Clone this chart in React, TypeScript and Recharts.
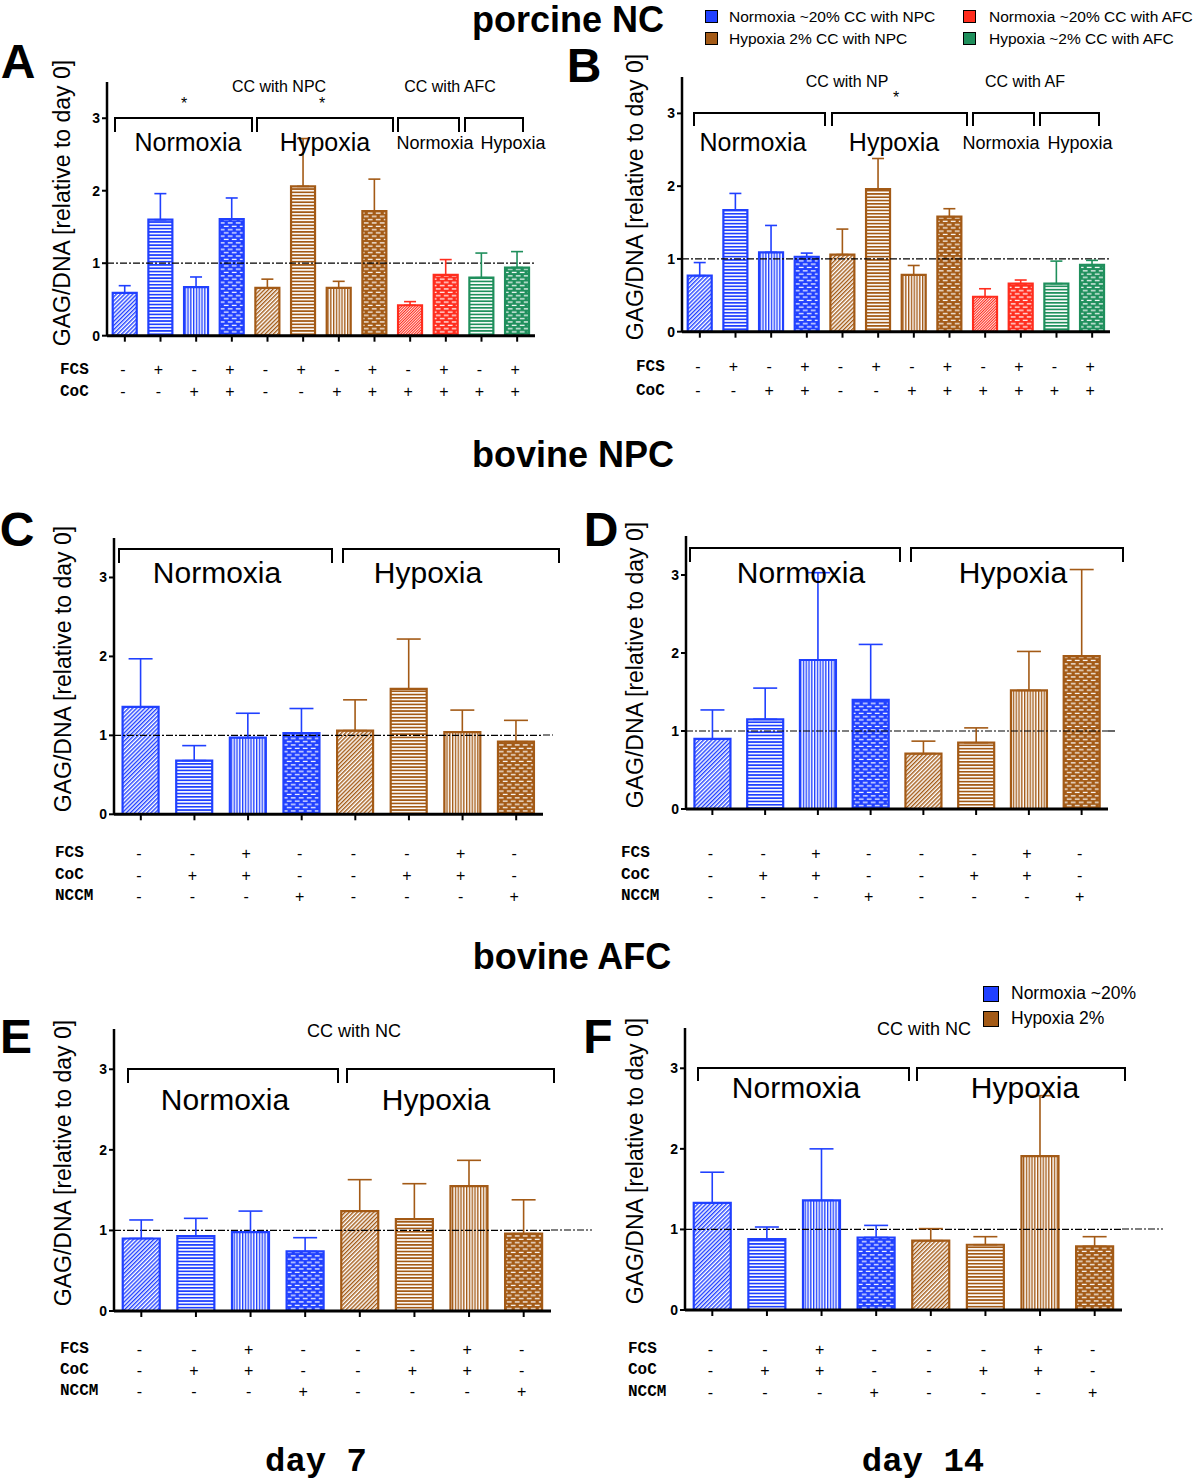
import React from "react";
import { Bar, BarChart, Cell, ErrorBar, ReferenceLine, XAxis, YAxis } from "recharts";

const BLUE = "#2040ff";
const BROWN = "#a35a16";
const RED = "#ff2d1e";
const GREEN = "#1f8f5c";
const SANS = "'Liberation Sans', Arial, sans-serif";
const MONO = "'Liberation Mono', 'Courier New', monospace";

type Group = "blue" | "brown" | "red" | "green";
type Fill = "diag" | "horiz" | "vert" | "brick" | "fine";

const COLORS: Record<Group, string> = { blue: BLUE, brown: BROWN, red: RED, green: GREEN };

// porcine NC: 12 conditions
const porcineCats = ["n1", "n2", "n3", "n4", "h1", "h2", "h3", "h4", "an1", "an2", "ah1", "ah2"];
const porcineGroups: Group[] = ["blue", "blue", "blue", "blue", "brown", "brown", "brown", "brown", "red", "red", "green", "green"];
const porcineFills: Fill[] = ["diag", "horiz", "vert", "brick", "diag", "horiz", "vert", "brick", "fine", "brick", "horiz", "brick"];
const porcineFCS = ["-", "+", "-", "+", "-", "+", "-", "+", "-", "+", "-", "+"];
const porcineCoC = ["-", "-", "+", "+", "-", "-", "+", "+", "+", "+", "+", "+"];

// bovine NPC / AFC: 8 conditions
const bovineCats = ["n1", "n2", "n3", "n4", "h1", "h2", "h3", "h4"];
const bovineGroups: Group[] = ["blue", "blue", "blue", "blue", "brown", "brown", "brown", "brown"];
const bovineFills: Fill[] = ["diag", "horiz", "vert", "brick", "diag", "horiz", "vert", "brick"];
const bovineFCS = ["-", "-", "+", "-", "-", "-", "+", "-"];
const bovineCoC = ["-", "+", "+", "-", "-", "+", "+", "-"];
const bovineNCCM = ["-", "-", "-", "+", "-", "-", "-", "+"];

const aMean = [0.59, 1.6, 0.67, 1.61, 0.66, 2.06, 0.66, 1.72, 0.42, 0.84, 0.8, 0.94];
const aSd = [0.1, 0.36, 0.14, 0.29, 0.12, 0.66, 0.09, 0.44, 0.05, 0.21, 0.34, 0.22];
const bMean = [0.77, 1.67, 1.09, 1.03, 1.06, 1.96, 0.78, 1.58, 0.48, 0.66, 0.66, 0.92];
const bSd = [0.18, 0.23, 0.37, 0.05, 0.35, 0.42, 0.13, 0.11, 0.11, 0.05, 0.31, 0.06];
const cMean = [1.36, 0.68, 0.97, 1.03, 1.06, 1.59, 1.04, 0.92];
const cSd = [0.61, 0.19, 0.31, 0.31, 0.39, 0.63, 0.28, 0.27];
const dMean = [0.9, 1.15, 1.91, 1.4, 0.71, 0.85, 1.52, 1.96];
const dSd = [0.37, 0.4, 1.12, 0.71, 0.16, 0.19, 0.5, 1.11];
const eMean = [0.9, 0.93, 0.98, 0.74, 1.24, 1.14, 1.55, 0.96];
const eSd = [0.23, 0.22, 0.26, 0.17, 0.39, 0.44, 0.32, 0.42];
const fMean = [1.33, 0.88, 1.36, 0.9, 0.86, 0.81, 1.91, 0.79];
const fSd = [0.38, 0.15, 0.64, 0.15, 0.15, 0.1, 0.75, 0.12];

const yTicks = [0, 1, 2, 3];

interface Bracket { x1: number; x2: number; y: number; leg: number }
interface Label { text: string; x: number; y: number; size: number; bold?: boolean }
interface PanelCfg {
  cats: string[];
  groups: Group[];
  fills: Fill[];
  mean: number[];
  sd: number[];
  rows: { name: string; values: string[] }[];
  rowOff: number[];
  rowLabelX: number;
  axisX: number;
  axisEnd: number;
  yTop: number;
  y0: number;
  cap: number;
  refEnd?: number;
  brackets: Bracket[];
  labels: Label[];
  yLabel: { x: number; y: number };
}

function Patterns() {
  const groups: Group[] = ["blue", "brown", "red", "green"];
  return (
    <svg width={0} height={0} style={{ position: "absolute" }}>
      <defs>
        {groups.map((g) => {
          const c = COLORS[g];
          return (
            <React.Fragment key={g}>
              <pattern id={`diag-${g}`} patternUnits="userSpaceOnUse" width={2.9} height={6} patternTransform="rotate(45)">
                <rect width={2.9} height={6} fill="#fff" />
                <rect width={1.4} height={6} fill={c} />
              </pattern>
              <pattern id={`fine-${g}`} patternUnits="userSpaceOnUse" width={1.9} height={6} patternTransform="rotate(45)">
                <rect width={1.9} height={6} fill="#fff" />
                <rect width={1.1} height={6} fill={c} />
              </pattern>
              <pattern id={`horiz-${g}`} patternUnits="userSpaceOnUse" width={6} height={3.3}>
                <rect width={6} height={3.3} fill="#fff" />
                <rect width={6} height={1.7} fill={c} />
              </pattern>
              <pattern id={`vert-${g}`} patternUnits="userSpaceOnUse" width={2.8} height={6}>
                <rect width={2.8} height={6} fill="#fff" />
                <rect width={1.35} height={6} fill={c} />
              </pattern>
              <pattern id={`brick-${g}`} patternUnits="userSpaceOnUse" width={8} height={6.6}>
                <rect width={8} height={6.6} fill={c} />
                <rect x={0.8} y={1.2} width={4.8} height={1.2} fill="#fff" />
                <rect x={4.8} y={4.5} width={4.8} height={1.2} fill="#fff" />
                <rect x={-3.2} y={4.5} width={4.8} height={1.2} fill="#fff" />
              </pattern>
            </React.Fragment>
          );
        })}
      </defs>
    </svg>
  );
}

const Txt = ({ text, x, y, size, bold, family }: Label & { family?: string }) => (
  <div
    style={{
      position: "absolute",
      left: x,
      top: y,
      transform: "translate(-50%, -50%)",
      fontSize: size,
      fontWeight: bold ? "bold" : "normal",
      fontFamily: family || SANS,
      lineHeight: 1,
      whiteSpace: "nowrap",
      color: "#000",
    }}
  >
    {text}
  </div>
);

function Panel({ cfg }: { cfg: PanelCfg }) {
  const yW = 40;
  const mT = 6;
  const mR = 4;
  const xH = 100;
  const left = cfg.axisX - yW;
  const top = cfg.yTop - mT;
  const width = yW + (cfg.axisEnd - cfg.axisX) + mR;
  const height = mT + (cfg.y0 - cfg.yTop) + xH;
  const used = Array.from(new Set(cfg.groups));

  const data = cfg.cats.map((cat, i) => {
    const row: any = { cat, mean: cfg.mean[i] };
    used.forEach((g) => {
      row[`e_${g}`] = cfg.groups[i] === g ? [0, cfg.sd[i]] : null;
    });
    return row;
  });

  const SignTick = (props: any) => {
    const { x, y, payload } = props;
    const idx = props.index ?? payload.index;
    return (
      <g>
        {cfg.rows.map((r, ri) => (
          <text
            key={r.name}
            x={x - 2}
            y={y + cfg.rowOff[ri] - 6}
            textAnchor="middle"
            dominantBaseline="central"
            fontSize={16}
            fontFamily={SANS}
            fill="#000"
          >
            {r.values[idx]}
          </text>
        ))}
      </g>
    );
  };

  const unit = (cfg.y0 - cfg.yTop) / 3.5;
  const refY = cfg.y0 - unit;

  return (
    <>
      <div style={{ position: "absolute", left, top }}>
        <BarChart
          width={width}
          height={height}
          data={data}
          margin={{ top: mT, right: mR, bottom: 0, left: 0 }}
          barCategoryGap="16%"
        >
          <XAxis
            dataKey="cat"
            interval={0}
            height={xH}
            tickSize={6}
            tickMargin={0}
            axisLine={{ stroke: "#000", strokeWidth: 3 }}
            tickLine={{ stroke: "#000", strokeWidth: 2 }}
            tick={<SignTick />}
          />
          <YAxis
            type="number"
            domain={[0, 3.5]}
            ticks={yTicks}
            allowDataOverflow
            width={yW}
            tickSize={5}
            tickMargin={2}
            axisLine={{ stroke: "#000", strokeWidth: 2.5 }}
            tickLine={{ stroke: "#000", strokeWidth: 2 }}
            tick={{ fontSize: 14, fontWeight: "bold", fill: "#000", fontFamily: SANS }}
          />
          <ReferenceLine y={1} stroke="#000" strokeWidth={1.2} strokeDasharray="7 2 2 2" />
          <Bar dataKey="mean" isAnimationActive={false} strokeWidth={2.2}>
            {data.map((d, i) => (
              <Cell
                key={d.cat}
                fill={`url(#${cfg.fills[i]}-${cfg.groups[i]})`}
                stroke={COLORS[cfg.groups[i]]}
              />
            ))}
            {used.map((g) => (
              <ErrorBar
                key={g}
                dataKey={`e_${g}`}
                direction="y"
                width={cfg.cap}
                stroke={COLORS[g]}
                strokeWidth={1.6}
                isAnimationActive={false}
              />
            ))}
          </Bar>
        </BarChart>
      </div>
      {cfg.refEnd && (
        <svg
          style={{ position: "absolute", left: cfg.axisEnd, top: refY - 2 }}
          width={cfg.refEnd - cfg.axisEnd}
          height={4}
        >
          <line x1={0} x2={cfg.refEnd - cfg.axisEnd} y1={2} y2={2} stroke="#000" strokeWidth={1.2} strokeDasharray="7 2 2 2" />
        </svg>
      )}
      {cfg.brackets.map((b, i) => (
        <div
          key={i}
          style={{
            position: "absolute",
            left: b.x1,
            top: b.y - 1,
            width: b.x2 - b.x1 - 2,
            height: b.leg,
            borderTop: "2px solid #000",
            borderLeft: "2px solid #000",
            borderRight: "2px solid #000",
          }}
        />
      ))}
      {cfg.labels.map((l, i) => (
        <Txt key={i} {...l} />
      ))}
      {cfg.rows.map((r, ri) => (
        <div
          key={r.name}
          style={{
            position: "absolute",
            left: cfg.rowLabelX,
            top: cfg.y0 + cfg.rowOff[ri] - 9,
            fontFamily: MONO,
            fontWeight: "bold",
            fontSize: 16,
            lineHeight: "18px",
          }}
        >
          {r.name}
        </div>
      ))}
      <div
        style={{
          position: "absolute",
          left: cfg.yLabel.x - 200,
          top: cfg.yLabel.y - 15,
          width: 400,
          height: 30,
          lineHeight: "30px",
          textAlign: "center",
          transform: "rotate(-90deg)",
          fontFamily: SANS,
          fontSize: 23,
          whiteSpace: "nowrap",
        }}
      >
        GAG/DNA [relative to day 0]
      </div>
    </>
  );
}

const porcineRows = [
  { name: "FCS", values: porcineFCS },
  { name: "CoC", values: porcineCoC },
];
const bovineRows = [
  { name: "FCS", values: bovineFCS },
  { name: "CoC", values: bovineCoC },
  { name: "NCCM", values: bovineNCCM },
];

const panels: PanelCfg[] = [
  {
    cats: porcineCats, groups: porcineGroups, fills: porcineFills, mean: aMean, sd: aSd,
    rows: porcineRows, rowOff: [34, 56], rowLabelX: 60,
    axisX: 107, axisEnd: 535, yTop: 82, y0: 335.7, cap: 6,
    brackets: [
      { x1: 114, x2: 251, y: 118, leg: 13 },
      { x1: 256, x2: 392, y: 118, leg: 13 },
      { x1: 397, x2: 458, y: 118, leg: 13 },
      { x1: 464, x2: 522, y: 118, leg: 13 },
    ],
    labels: [
      { text: "Normoxia", x: 188, y: 142, size: 25 },
      { text: "Hypoxia", x: 325, y: 142, size: 25 },
      { text: "Normoxia", x: 435, y: 143, size: 18 },
      { text: "Hypoxia", x: 513, y: 143, size: 18 },
      { text: "CC with NPC", x: 279, y: 87, size: 16 },
      { text: "CC with AFC", x: 450, y: 87, size: 16 },
      { text: "*", x: 184, y: 104, size: 16 },
      { text: "*", x: 322, y: 104, size: 16 },
    ],
    yLabel: { x: 62, y: 203 },
  },
  {
    cats: porcineCats, groups: porcineGroups, fills: porcineFills, mean: bMean, sd: bSd,
    rows: porcineRows, rowOff: [35, 59], rowLabelX: 636,
    axisX: 682, axisEnd: 1110, yTop: 77, y0: 331.7, cap: 6,
    brackets: [
      { x1: 693, x2: 824, y: 113, leg: 12 },
      { x1: 831, x2: 966, y: 113, leg: 12 },
      { x1: 972, x2: 1033, y: 113, leg: 12 },
      { x1: 1039, x2: 1098, y: 113, leg: 12 },
    ],
    labels: [
      { text: "Normoxia", x: 753, y: 142, size: 25 },
      { text: "Hypoxia", x: 894, y: 142, size: 25 },
      { text: "Normoxia", x: 1001, y: 143, size: 18 },
      { text: "Hypoxia", x: 1080, y: 143, size: 18 },
      { text: "CC with NP", x: 847, y: 82, size: 16 },
      { text: "CC with AF", x: 1025, y: 82, size: 16 },
      { text: "*", x: 896, y: 98, size: 16 },
    ],
    yLabel: { x: 635, y: 197 },
  },
  {
    cats: bovineCats, groups: bovineGroups, fills: bovineFills, mean: cMean, sd: cSd,
    rows: bovineRows, rowOff: [39, 61, 82], rowLabelX: 55,
    axisX: 114, axisEnd: 543, yTop: 538, y0: 814.3, cap: 12, refEnd: 553,
    brackets: [
      { x1: 118, x2: 331, y: 549, leg: 13 },
      { x1: 342, x2: 558, y: 549, leg: 13 },
    ],
    labels: [
      { text: "Normoxia", x: 217, y: 573, size: 30 },
      { text: "Hypoxia", x: 428, y: 573, size: 30 },
    ],
    yLabel: { x: 63, y: 669 },
  },
  {
    cats: bovineCats, groups: bovineGroups, fills: bovineFills, mean: dMean, sd: dSd,
    rows: bovineRows, rowOff: [44, 66, 87], rowLabelX: 621,
    axisX: 686, axisEnd: 1108, yTop: 536, y0: 809, cap: 12, refEnd: 1117,
    brackets: [
      { x1: 689, x2: 899, y: 548, leg: 13 },
      { x1: 910, x2: 1122, y: 548, leg: 13 },
    ],
    labels: [
      { text: "Normoxia", x: 801, y: 573, size: 30 },
      { text: "Hypoxia", x: 1013, y: 573, size: 30 },
    ],
    yLabel: { x: 635, y: 665 },
  },
  {
    cats: bovineCats, groups: bovineGroups, fills: bovineFills, mean: eMean, sd: eSd,
    rows: bovineRows, rowOff: [38, 59, 80], rowLabelX: 60,
    axisX: 114, axisEnd: 551, yTop: 1029, y0: 1311, cap: 12, refEnd: 592,
    brackets: [
      { x1: 127, x2: 337, y: 1069, leg: 13 },
      { x1: 346, x2: 553, y: 1069, leg: 13 },
    ],
    labels: [
      { text: "Normoxia", x: 225, y: 1100, size: 30 },
      { text: "Hypoxia", x: 436, y: 1100, size: 30 },
      { text: "CC with NC", x: 354, y: 1031, size: 18 },
    ],
    yLabel: { x: 63, y: 1163 },
  },
  {
    cats: bovineCats, groups: bovineGroups, fills: bovineFills, mean: fMean, sd: fSd,
    rows: bovineRows, rowOff: [39, 60, 82], rowLabelX: 628,
    axisX: 685, axisEnd: 1122, yTop: 1028, y0: 1310, cap: 12, refEnd: 1163,
    brackets: [
      { x1: 697, x2: 908, y: 1068, leg: 12 },
      { x1: 916, x2: 1124, y: 1068, leg: 12 },
    ],
    labels: [
      { text: "Normoxia", x: 796, y: 1088, size: 30 },
      { text: "Hypoxia", x: 1025, y: 1088, size: 30 },
      { text: "CC with NC", x: 924, y: 1029, size: 18 },
    ],
    yLabel: { x: 635, y: 1161 },
  },
];

const Swatch = ({ x, y, size, color }: { x: number; y: number; size: number; color: string }) => (
  <div
    style={{
      position: "absolute",
      left: x,
      top: y,
      width: size - 3,
      height: size - 3,
      background: color,
      border: "1.5px solid #000",
    }}
  />
);

const LegText = ({ x, y, size, text }: { x: number; y: number; size: number; text: string }) => (
  <div
    style={{
      position: "absolute",
      left: x,
      top: y - size / 2,
      fontSize: size,
      lineHeight: 1,
      fontFamily: SANS,
      whiteSpace: "nowrap",
    }}
  >
    {text}
  </div>
);

export default function App() {
  return (
    <div
      style={{
        position: "absolute",
        left: 0,
        top: 0,
        width: 1200,
        height: 1480,
        background: "#fff",
        fontFamily: SANS,
        overflow: "hidden",
      }}
    >
      <Patterns />
      <Txt text="porcine NC" x={568} y={20} size={36} bold />
      <Txt text="bovine NPC" x={573} y={455} size={36} bold />
      <Txt text="bovine AFC" x={572} y={957} size={36} bold />

      <Txt text="A" x={18} y={62} size={48} bold />
      <Txt text="B" x={584} y={66} size={48} bold />
      <Txt text="C" x={17} y={530} size={48} bold />
      <Txt text="D" x={601} y={530} size={48} bold />
      <Txt text="E" x={16} y={1037} size={48} bold />
      <Txt text="F" x={598} y={1037} size={48} bold />

      <Swatch x={705} y={10} size={14} color={BLUE} />
      <LegText x={729} y={17} size={15.5} text="Normoxia ~20% CC with NPC" />
      <Swatch x={705} y={32} size={14} color={BROWN} />
      <LegText x={729} y={39} size={15.5} text="Hypoxia 2% CC with NPC" />
      <Swatch x={963} y={10} size={14} color={RED} />
      <LegText x={989} y={17} size={15.5} text="Normoxia ~20% CC with AFC" />
      <Swatch x={963} y={32} size={14} color={GREEN} />
      <LegText x={989} y={39} size={15.5} text="Hypoxia ~2% CC with AFC" />

      <Swatch x={983} y={986} size={17} color={BLUE} />
      <LegText x={1011} y={994} size={17.5} text="Normoxia ~20%" />
      <Swatch x={983} y={1011} size={17} color={BROWN} />
      <LegText x={1011} y={1019} size={17.5} text="Hypoxia 2%" />

      {panels.map((p, i) => (
        <Panel key={i} cfg={p} />
      ))}

      <Txt text="day 7" x={316} y={1462} size={34} bold family={MONO} />
      <Txt text="day 14" x={923} y={1462} size={34} bold family={MONO} />
    </div>
  );
}
